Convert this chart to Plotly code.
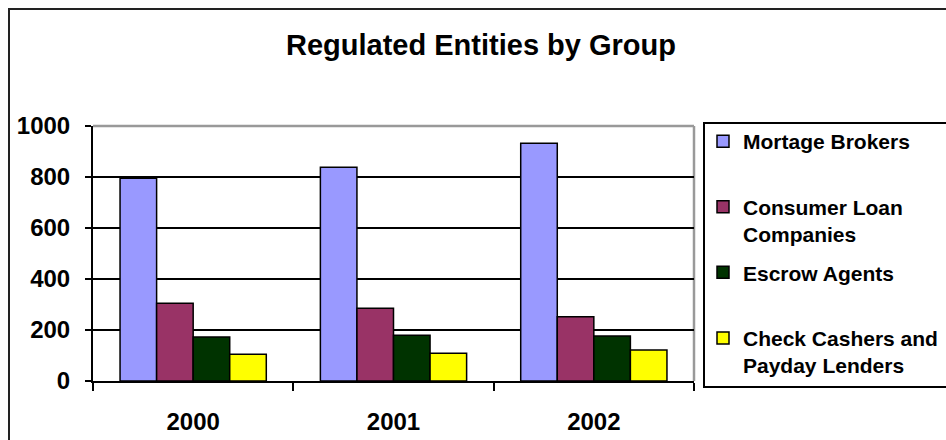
import plotly.graph_objects as go

years = ["2000", "2001", "2002"]
series_names = ["Mortage Brokers", "Consumer Loan<br>Companies", "Escrow Agents", "Check Cashers and<br>Payday Lenders"]
mortgage = [795, 838, 932]
consumer = [305, 285, 252]
escrow = [173, 179, 176]
check = [105, 109, 122]
colors = ["#9999FF", "#993366", "#003300", "#FFFF00"]
values = [mortgage, consumer, escrow, check]

W, H = 946, 440
L, R, T, B = 93, 252, 126, 59
pw, ph = W - L - R, H - T - B

def px_x(p):
    return (p - L) / pw

def px_y(p):
    return (H - B - p) / ph

FONT = "Arial, Liberation Sans, sans-serif"

fig = go.Figure()
for i, (name, vals, col) in enumerate(zip(series_names, values, colors)):
    label = name if "<br>" in name else name + "<br>\u00a0"
    fig.add_trace(go.Bar(
        x=years, y=vals, name=label, marker=dict(color=col, line=dict(color="black", width=1.5)),
        legendgroup=f"g{i}",
    ))

fig.update_layout(
    width=W, height=H,
    margin=dict(l=L, r=R, t=T, b=B, autoexpand=False),
    paper_bgcolor="white", plot_bgcolor="white",
    barmode="group", bargap=0.27, bargroupgap=0,
    title=dict(text="Regulated Entities by Group", x=481 / W, xanchor="center",
               y=1 - 45 / H, yanchor="middle", yref="container",
               font=dict(family=FONT, size=29, color="black", weight="bold")),
    font=dict(family=FONT, color="black"),
    showlegend=True,
    legend=dict(x=px_x(703), y=px_y(121), xanchor="left", yanchor="top",
                bgcolor="rgba(0,0,0,0)", borderwidth=0, valign="top",
                tracegroupgap=8, traceorder="grouped", maxheight=1,
                font=dict(family=FONT, size=21, color="black", weight="bold")),
    xaxis=dict(type="category", showgrid=False, showline=True, linecolor="black", linewidth=2,
               ticks="outside", tickson="boundaries", ticklen=8, tickwidth=2, tickcolor="black",
               ticklabelstandoff=18,
               tickfont=dict(family=FONT, size=24, color="black", weight="bold")),
    yaxis=dict(range=[0, 1000], tickvals=[0, 200, 400, 600, 800, 1000], showgrid=True,
               gridcolor="black", gridwidth=2, showline=True, linecolor="black", linewidth=2,
               ticks="outside", ticklen=6, tickwidth=2, tickcolor="black", zeroline=False,
               ticklabelstandoff=10,
               tickfont=dict(family=FONT, size=24, color="black", weight="bold")),
    shapes=[
        # plot-area top/right border (gray)
        dict(type="line", xref="paper", yref="paper", x0=0, x1=1, y0=1, y1=1,
             line=dict(color="#999999", width=2.5), layer="above"),
        dict(type="line", xref="paper", yref="paper", x0=1, x1=1, y0=0, y1=1,
             line=dict(color="#999999", width=2.5), layer="between"),
        # legend box
        dict(type="rect", xref="paper", yref="paper", x0=px_x(704), x1=px_x(950),
             y0=px_y(387), y1=px_y(123), line=dict(color="black", width=2), layer="above"),
        # outer chart border
        dict(type="rect", xref="paper", yref="paper", x0=px_x(9), x1=px_x(950),
             y0=px_y(445), y1=px_y(9), line=dict(color="#222222", width=2), layer="above"),
    ],
)

fig.write_html("out.html")
